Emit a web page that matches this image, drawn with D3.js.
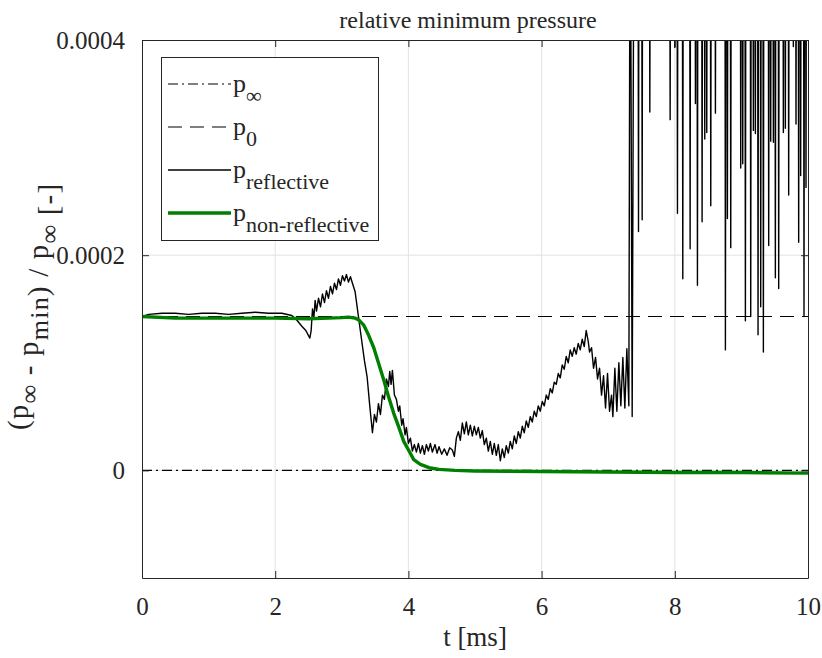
<!DOCTYPE html>
<html>
<head>
<meta charset="utf-8">
<script src="https://cdn.jsdelivr.net/npm/d3@7"></script>
<style>
  body { margin: 0; background: #fff; }
  text { font-family: "Liberation Serif", "Times New Roman", serif; fill: #262626; }
</style>
</head>
<body>
<div id="chart"></div>
<script>
// relative minimum pressure, reflective vs non-reflective boundary

var xTicks = [0, 2, 4, 6, 8, 10];
var yTicks = [0, 0.0002, 0.0004];
var yTickLabels = ["0", "0.0002", "0.0004"];

var pInf = [[0, 0], [10, 0]];
var p0 = [[0, 1.43e-4], [10, 1.43e-4]];

// values in units of 1e-4
var reflective = [
  [0.00,1.43],[0.10,1.45],[0.30,1.46],[0.50,1.46],[0.70,1.45],[0.90,1.46],[1.10,1.46],
  [1.30,1.45],[1.50,1.46],[1.70,1.47],[1.90,1.46],[2.10,1.46],[2.25,1.44],[2.32,1.40],
  [2.40,1.34],[2.46,1.30],[2.52,1.23],[2.54,1.30],[2.56,1.50],[2.58,1.42],[2.60,1.58],
  [2.62,1.48],[2.65,1.60],[2.68,1.52],[2.71,1.64],[2.74,1.56],[2.77,1.67],[2.80,1.60],
  [2.83,1.71],[2.86,1.64],[2.89,1.74],[2.92,1.68],[2.95,1.78],[2.98,1.72],[3.01,1.81],
  [3.04,1.76],[3.07,1.82],[3.10,1.75],[3.13,1.80],[3.16,1.74],[3.20,1.66],[3.25,1.43],
  [3.30,1.20],[3.34,1.02],[3.38,0.87],[3.42,0.60],[3.46,0.35],[3.49,0.52],[3.52,0.45],
  [3.55,0.62],[3.58,0.52],[3.61,0.70],[3.64,0.66],[3.67,0.85],[3.70,0.78],[3.72,0.92],
  [3.74,0.80],[3.76,0.93],[3.79,0.70],[3.82,0.66],[3.85,0.55],[3.87,0.60],[3.90,0.42],
  [3.92,0.48],[3.95,0.33],[3.97,0.40],[4.00,0.25],[4.03,0.30],[4.06,0.18],[4.09,0.24],
  [4.12,0.17],[4.15,0.25],[4.18,0.16],[4.21,0.23],[4.24,0.15],[4.27,0.24],[4.30,0.18],
  [4.33,0.25],[4.36,0.17],[4.40,0.24],[4.43,0.16],[4.46,0.22],[4.50,0.15],[4.54,0.20],
  [4.58,0.14],[4.62,0.21],[4.66,0.19],[4.69,0.13],[4.72,0.30],[4.75,0.36],[4.78,0.28],
  [4.81,0.44],[4.84,0.34],[4.87,0.45],[4.90,0.33],[4.93,0.42],[4.96,0.32],[4.99,0.41],
  [5.02,0.33],[5.05,0.40],[5.08,0.30],[5.11,0.37],[5.14,0.24],[5.17,0.30],[5.20,0.18],
  [5.23,0.27],[5.26,0.15],[5.29,0.25],[5.32,0.14],[5.35,0.24],[5.38,0.09],[5.41,0.20],
  [5.44,0.12],[5.47,0.23],[5.50,0.16],[5.53,0.27],[5.56,0.20],[5.59,0.32],[5.62,0.25],
  [5.65,0.36],[5.68,0.30],[5.71,0.41],[5.74,0.35],[5.77,0.46],[5.80,0.40],[5.83,0.50],
  [5.86,0.45],[5.89,0.55],[5.92,0.50],[5.95,0.60],[5.98,0.55],[6.01,0.64],[6.04,0.60],
  [6.07,0.70],[6.10,0.66],[6.13,0.76],[6.16,0.72],[6.19,0.82],[6.22,0.80],[6.25,0.90],
  [6.28,0.86],[6.31,0.98],[6.34,0.94],[6.37,1.06],[6.40,1.00],[6.43,1.12],[6.46,1.06],
  [6.49,1.14],[6.52,1.08],[6.55,1.18],[6.58,1.12],[6.61,1.22],[6.64,1.15],[6.67,1.30],
  [6.70,1.20],[6.72,1.10],[6.75,1.14],[6.78,0.95],[6.81,1.05],[6.84,0.85],[6.87,0.95],
  [6.90,0.70],[6.93,0.88],[6.96,0.58],[6.99,0.90],[7.02,0.55],[7.05,0.70],[7.07,0.50],
  [7.10,0.95],[7.13,0.55],[7.16,1.00],[7.19,0.60],[7.22,1.05],[7.25,0.58],[7.28,1.13],
  [7.31,0.60],[7.33,6.0],[7.36,0.50],[7.39,6.0],
  // spiky part: goes off the top between the dips
  [7.447,6],[7.455,2.22],[7.463,6],[7.502,6],[7.51,2.33],[7.518,6],[7.617,6],[7.625,3.33],[7.633,6],
  [7.922,6],[7.93,3.26],[7.938,6],[7.992,6],[8.00,3.93],[8.008,6],[8.032,6],[8.04,2.39],[8.048,6],
  [8.112,6],[8.12,1.78],[8.128,6],[8.222,6],[8.23,2.06],[8.238,6],[8.302,6],[8.31,3.41],[8.318,6],
  [8.332,6],[8.34,1.72],[8.348,6],[8.402,6],[8.41,2.31],[8.418,6],[8.442,6],[8.45,3.08],[8.458,6],
  [8.472,6],[8.48,3.14],[8.488,6],[8.532,6],[8.54,2.46],[8.548,6],[8.602,6],[8.61,3.32],[8.618,6],
  [8.752,6],[8.76,1.12],[8.768,6],[8.782,6],[8.79,2.34],[8.798,6],[8.832,6],[8.84,2.07],[8.848,6],
  [8.982,6],[8.99,2.81],[8.998,6],[9.012,6],[9.02,2.85],[9.028,6],[9.052,6],[9.06,1.39],[9.068,6],
  [9.132,6],[9.14,1.43],[9.148,6],[9.172,6],[9.18,3.16],[9.188,6],[9.202,6],[9.21,3.13],[9.218,6],
  [9.242,6],[9.25,1.26],[9.258,6],[9.282,6],[9.29,1.52],[9.298,6],[9.322,6],[9.33,1.10],[9.338,6],
  [9.402,6],[9.41,2.09],[9.418,6],[9.432,6],[9.44,3.06],[9.448,6],[9.472,6],[9.48,3.05],[9.488,6],
  [9.502,6],[9.51,1.79],[9.518,6],[9.552,6],[9.56,1.69],[9.568,6],[9.622,6],[9.63,3.14],[9.638,6],
  [9.652,6],[9.66,3.18],[9.668,6],[9.702,6],[9.71,2.56],[9.718,6],[9.772,6],[9.78,3.94],[9.788,6],
  [9.812,6],[9.82,3.22],[9.828,6],[9.852,6],[9.86,2.12],[9.868,6],[9.882,6],[9.89,2.74],[9.898,6],
  [9.932,6],[9.94,1.43],[9.948,6],[9.962,6],[9.97,2.63],[9.978,6],[10.0,6]
];

var nonReflective = [
  [0.00,1.43],[0.50,1.415],[1.00,1.415],[1.50,1.415],[2.00,1.415],[2.50,1.41],[2.80,1.415],
  [3.00,1.42],[3.10,1.425],[3.20,1.415],[3.25,1.40],[3.33,1.35],[3.40,1.26],[3.48,1.14],
  [3.55,1.00],[3.63,0.84],[3.70,0.69],[3.78,0.53],[3.86,0.395],[3.93,0.27],[4.01,0.18],
  [4.08,0.10],[4.18,0.056],[4.31,0.025],[4.46,0.01],[4.70,0.00],[5.00,-0.005],[6.00,-0.01],
  [7.00,-0.015],[8.00,-0.02],[9.00,-0.02],[10.00,-0.025]
];

var W = 822, H = 658;
var mLeft = 142, mRight = 808, mTop = 40, mBottom = 578;
var axisColor = "#262626";

var svg = d3.select("#chart").append("svg")
  .attr("width", W).attr("height", H);

var x = d3.scaleLinear().domain([0, 10]).range([mLeft, mRight]);
var y = d3.scaleLinear().domain([-0.0001, 0.0004]).range([mBottom, mTop]);

// grid
svg.append("g").selectAll("line.gx")
  .data(xTicks.slice(1, -1)).enter().append("line")
  .attr("x1", d => x(d)).attr("x2", d => x(d))
  .attr("y1", mTop).attr("y2", mBottom)
  .style("stroke", "#e3e3e3").style("stroke-width", 1);
svg.append("g").selectAll("line.gy")
  .data(yTicks.slice(0, -1)).enter().append("line")
  .attr("x1", mLeft).attr("x2", mRight)
  .attr("y1", d => y(d)).attr("y2", d => y(d))
  .style("stroke", "#e3e3e3").style("stroke-width", 1);

svg.append("clipPath").attr("id", "clip")
  .append("rect").attr("x", mLeft).attr("y", mTop)
  .attr("width", mRight - mLeft).attr("height", mBottom - mTop);

var plot = svg.append("g").attr("clip-path", "url(#clip)");

var line = d3.line().x(d => x(d[0])).y(d => y(d[1]));
var line4 = d3.line().x(d => x(d[0])).y(d => y(d[1] * 1e-4));

plot.append("path").datum(pInf).attr("d", line)
  .style("fill", "none").style("stroke", "#000").style("stroke-width", 1.1)
  .style("stroke-dasharray", "10,4,2,4");
plot.append("path").datum(p0).attr("d", line)
  .style("fill", "none").style("stroke", "#000").style("stroke-width", 1.1)
  .style("stroke-dasharray", "14,8");
plot.append("path").datum(reflective).attr("d", line4)
  .style("fill", "none").style("stroke", "#000").style("stroke-width", 1.4)
  .style("stroke-linejoin", "round");
plot.append("path").datum(nonReflective).attr("d", line4)
  .style("fill", "none").style("stroke", "#008000").style("stroke-width", 3.4)
  .style("stroke-linejoin", "round");

// axes, ticks pointing inward like matlab
function styleAxis(g) {
  g.select(".domain").style("stroke", axisColor);
  g.selectAll(".tick line").style("stroke", axisColor);
  g.selectAll(".tick text")
    .style("font-family", "Liberation Serif, serif")
    .style("font-size", "25px").style("fill", axisColor);
}
svg.append("g").attr("transform", "translate(0," + mBottom + ")")
  .call(d3.axisBottom(x).tickValues(xTicks).tickSizeInner(-7).tickSizeOuter(0).tickPadding(19))
  .call(styleAxis);
svg.append("g").attr("transform", "translate(0," + mTop + ")")
  .call(d3.axisTop(x).tickValues(xTicks).tickSizeInner(-7).tickSizeOuter(0).tickFormat(""))
  .call(styleAxis);
svg.append("g").attr("transform", "translate(" + mLeft + ",0)")
  .call(d3.axisLeft(y).tickValues(yTicks).tickSizeInner(-7).tickSizeOuter(0).tickPadding(17)
    .tickFormat((d, i) => yTickLabels[i]))
  .call(styleAxis);
svg.append("g").attr("transform", "translate(" + mRight + ",0)")
  .call(d3.axisRight(y).tickValues(yTicks).tickSizeInner(-7).tickSizeOuter(0).tickFormat(""))
  .call(styleAxis);

// title and labels
svg.append("text")
  .attr("x", 468).attr("y", 28)
  .attr("text-anchor", "middle").style("font-size", "24px")
  .text("relative minimum pressure");

svg.append("text")
  .attr("x", (mLeft + mRight) / 2).attr("y", 646)
  .attr("text-anchor", "middle").style("font-size", "27px")
  .text("t [ms]");

var yl = svg.append("text")
  .attr("transform", "translate(28,430) rotate(-90)")
  .attr("text-anchor", "start").style("font-size", "29px")
  .style("letter-spacing", "1.2px");
function sub(t, s) {
  t.append("tspan").text("p");
  t.append("tspan").attr("dy", 10).style("font-size", "26px").text(s);
  t.append("tspan").attr("dy", -10).text("");
}
yl.append("tspan").text("(");
sub(yl, "\u221e");
yl.append("tspan").text(" - ");
sub(yl, "min");
yl.append("tspan").text(") / ");
sub(yl, "\u221e");
yl.append("tspan").text(" [-]");

// legend
var legendItems = [
  {sub: "\u221e", dash: "10,4,2,4", color: "#000", width: 1.1},
  {sub: "0", dash: "14,8", color: "#000", width: 1.1},
  {sub: "reflective", dash: null, color: "#000", width: 1.4},
  {sub: "non-reflective", dash: null, color: "#008000", width: 3.4}
];
var lg = svg.append("g");
lg.append("rect").attr("x", 161.5).attr("y", 57.5).attr("width", 217).attr("height", 183)
  .style("fill", "#fff").style("stroke", axisColor).style("stroke-width", 1);
var item = lg.selectAll("g.item").data(legendItems).enter().append("g")
  .attr("transform", (d, i) => "translate(0," + (84 + i * 43) + ")");
item.append("line").attr("x1", 168).attr("x2", 231).attr("y1", 0).attr("y2", 0)
  .style("stroke", d => d.color).style("stroke-width", d => d.width)
  .style("stroke-dasharray", d => d.dash);
var lt = item.append("text").attr("x", 233).attr("y", 8).style("font-size", "26px");
lt.append("tspan").text("p");
lt.append("tspan").attr("dy", 11).style("font-size", "22px").text(d => d.sub);
</script>
</body>
</html>
